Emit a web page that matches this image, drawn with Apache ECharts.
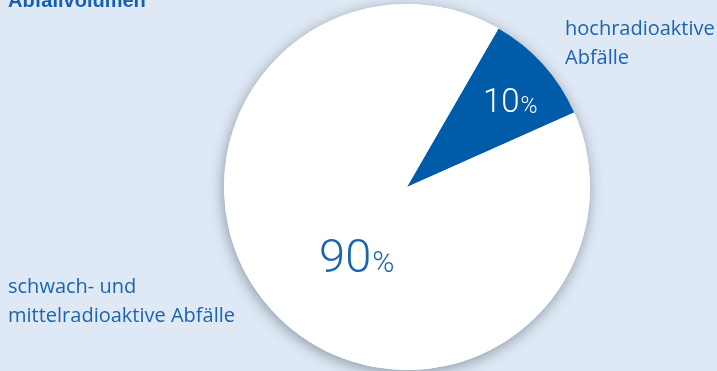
<!DOCTYPE html>
<html><head><meta charset="utf-8">
<script src="https://cdn.jsdelivr.net/npm/echarts@6/dist/echarts.min.js"></script>
<style>html,body{margin:0;padding:0;background:#dfe9f5}#c{width:717px;height:371px}</style>
</head><body><div id="c"></div>
<script>
const titleText = "Abfallvolumen";
const categories = ["hochradioaktive\nAbfälle", "schwach- und\nmittelradioaktive Abfälle"];
const values = [10, 90];
const sliceColors = ["#005ba9", "#ffffff"];
const pctColors = ["#ffffff", "#1a64b2"];

const chart = echarts.init(document.getElementById('c'), null, {renderer: 'canvas'});
const labelOffsets = [[33, -20], [20, 10]];
const bigSizes = [33, 47];
const smallSizes = [23, 30];
const pctRaise = [2, 4];

const mainData = values.map((v, i) => ({
  name: categories[i],
  value: v,
  itemStyle: {color: sliceColors[i]},
  label: {
    show: true,
    position: 'inside',
    offset: labelOffsets[i],
    formatter: '{a|' + v + '}{b|%}',
    rich: {
      a: {fontFamily: 'Roboto', fontWeight: 300, fontSize: bigSizes[i], color: pctColors[i], verticalAlign: 'bottom', lineHeight: bigSizes[i]},
      b: {fontFamily: 'Roboto', fontWeight: 300, fontSize: smallSizes[i], color: pctColors[i], verticalAlign: 'bottom', lineHeight: smallSizes[i], padding: [0, 0, pctRaise[i], 1]}
    }
  }
}));

chart.setOption({
  backgroundColor: '#dfe9f5',
  animation: false,
  graphic: [
    {type: 'text', left: 8, top: -9, style: {text: titleText, font: 'bold 20px "Liberation Sans", Arial', fill: '#1560ae'}},
    {type: 'text', left: 565, top: 15, style: {text: categories[0], font: '20px "Open Sans"', fill: '#1a64b2', lineHeight: 29}},
    {type: 'text', left: 8, top: 273, style: {text: categories[1], font: '20px "Open Sans"', fill: '#1a64b2', lineHeight: 29}}
  ],
  series: [
    {
      type: 'pie', silent: true, center: [407, 187], radius: 183, startAngle: 60, z: 1,
      label: {show: false}, labelLine: {show: false},
      itemStyle: {color: '#ffffff', borderWidth: 0, shadowBlur: 14, shadowColor: 'rgba(40,50,70,0.45)', shadowOffsetX: -1, shadowOffsetY: 3},
      data: values.map(v => ({value: v}))
    },
    {
      type: 'pie', silent: true, center: [407, 187], radius: 183, startAngle: 60, z: 2,
      clockwise: true,
      labelLine: {show: false},
      itemStyle: {borderWidth: 0},
      data: mainData
    }
  ]
});
</script></body></html>
